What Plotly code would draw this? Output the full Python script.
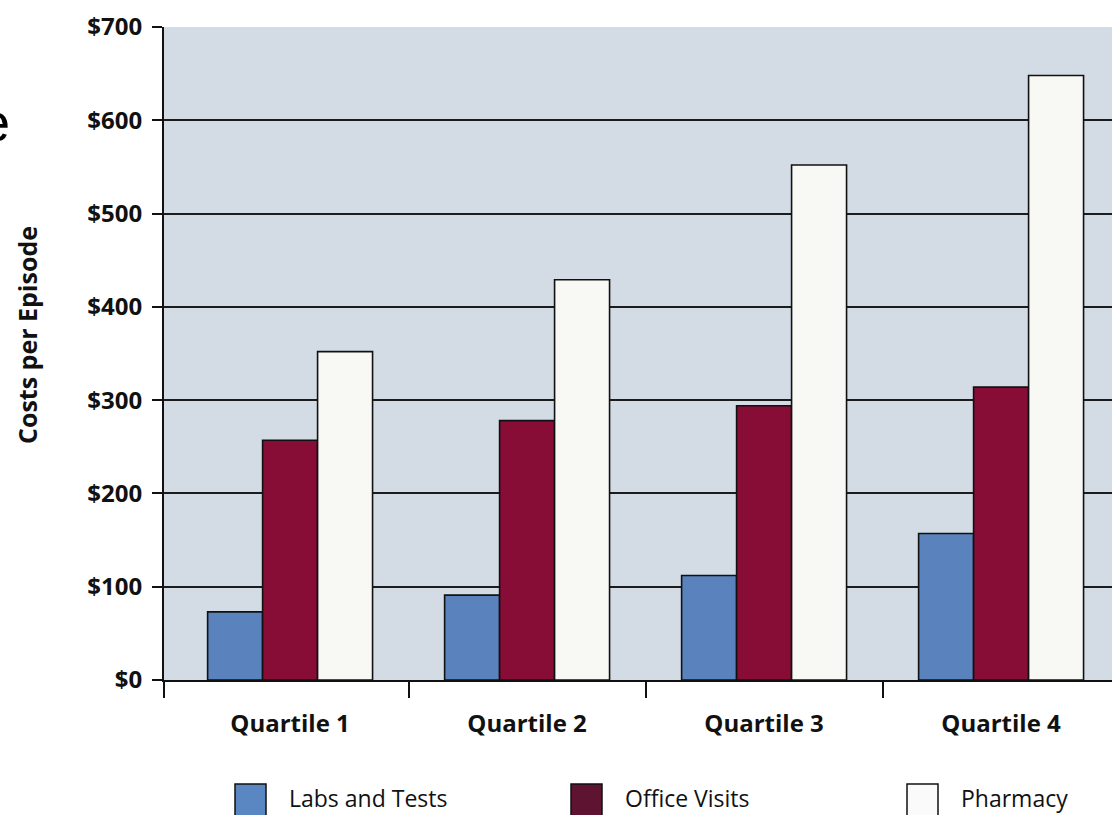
import plotly.graph_objects as go

# Average cost per episode, by spending quartile and service type
categories = ["Quartile 1", "Quartile 2", "Quartile 3", "Quartile 4"]
labs_and_tests = [73, 91, 112, 157]
office_visits = [257, 278, 294, 314]
pharmacy = [352, 429, 552, 648]

y_tick_values = [0, 100, 200, 300, 400, 500, 600, 700]
y_tick_labels = ["$0", "$100", "$200", "$300", "$400", "$500", "$600", "$700"]

series_names = ["Labs and Tests", "Office Visits", "Pharmacy"]
series_values = [labs_and_tests, office_visits, pharmacy]
bar_colors = ["#5a82bc", "#880d36", "#f8f8f5"]
key_colors = ["#5a86c2", "#5e1430", "#fafafa"]

W, H = 1112, 815
M_L, M_R, M_T, M_B = 164, 0, 27, 135
plot_w = W - M_L - M_R
plot_h = H - M_T - M_B

x_pos = list(range(len(categories)))
x_range = [-0.532, 3.468]
boundaries = [x_range[0]] + [i + 0.5 for i in x_pos[:-1]]

TICK_FONT = "Open Sans"
INK = "#111111"


def px_to_paper_x(px):
    return (px - M_L) / plot_w


def px_to_paper_y(py):
    return (H - M_B - py) / plot_h


fig = go.Figure()
for name, vals, col in zip(series_names, series_values, bar_colors):
    fig.add_trace(go.Bar(
        x=x_pos, y=vals, name=name,
        marker=dict(color=col, line=dict(color=INK, width=1.6)),
        showlegend=False,
    ))

# Key below the chart: outlined swatch followed by label
key_left, key_step = 235, 336
for i, (name, col) in enumerate(zip(series_names, key_colors)):
    x0 = key_left + i * key_step
    fig.add_shape(
        type="rect", xref="paper", yref="paper",
        x0=px_to_paper_x(x0), x1=px_to_paper_x(x0 + 31),
        y0=px_to_paper_y(822), y1=px_to_paper_y(784),
        fillcolor=col, line=dict(color=INK, width=1.5), layer="above",
    )
    fig.add_annotation(
        xref="paper", yref="paper",
        x=px_to_paper_x(x0 + 52), y=px_to_paper_y(798),
        xanchor="left", yanchor="middle", showarrow=False,
        text=name, font=dict(family=TICK_FONT, size=23, color=INK),
    )

# Vertical axis title, placed beside the tick labels
fig.add_annotation(
    xref="paper", yref="paper",
    x=px_to_paper_x(27), y=px_to_paper_y(335),
    xanchor="center", yanchor="middle", showarrow=False,
    textangle=-90,
    text="Costs per Episode",
    font=dict(family=TICK_FONT, size=25, color=INK, weight=700),
)

# Fragment of a heading at the far left edge
fig.add_annotation(
    xref="paper", yref="paper",
    x=px_to_paper_x(12), y=px_to_paper_y(122),
    xanchor="right", yanchor="middle", showarrow=False,
    text="e", font=dict(family="Liberation Sans", size=54, color="#000000"),
)

fig.update_layout(
    width=W, height=H,
    margin=dict(l=M_L, r=M_R, t=M_T, b=M_B, pad=0),
    paper_bgcolor="#ffffff",
    plot_bgcolor="#d3dbe4",
    barmode="group",
    bargap=0.304,
    bargroupgap=0,
    font=dict(family=TICK_FONT, color=INK),
)

fig.update_xaxes(
    type="linear",
    range=x_range,
    tickmode="array",
    tickvals=x_pos,
    ticktext=categories,
    ticks="",
    tickfont=dict(family=TICK_FONT, size=24, color=INK, weight=700),
    ticklabelstandoff=21,
    showgrid=False,
    zeroline=False,
    showline=True, linecolor=INK, linewidth=2,
    minor=dict(tickmode="array", tickvals=boundaries, ticks="outside",
               ticklen=16, tickwidth=2, tickcolor=INK, showgrid=False),
)

fig.update_yaxes(
    range=[0, 700],
    tickmode="array",
    tickvals=y_tick_values,
    ticktext=y_tick_labels,
    ticks="outside", ticklen=10, tickwidth=2, tickcolor=INK,
    tickfont=dict(family=TICK_FONT, size=24, color=INK, weight=700),
    ticklabelstandoff=5,
    showgrid=True, gridcolor="#1c1c1c", gridwidth=2,
    zeroline=False,
    showline=True, linecolor=INK, linewidth=2,
)

fig.write_html("out.html")
